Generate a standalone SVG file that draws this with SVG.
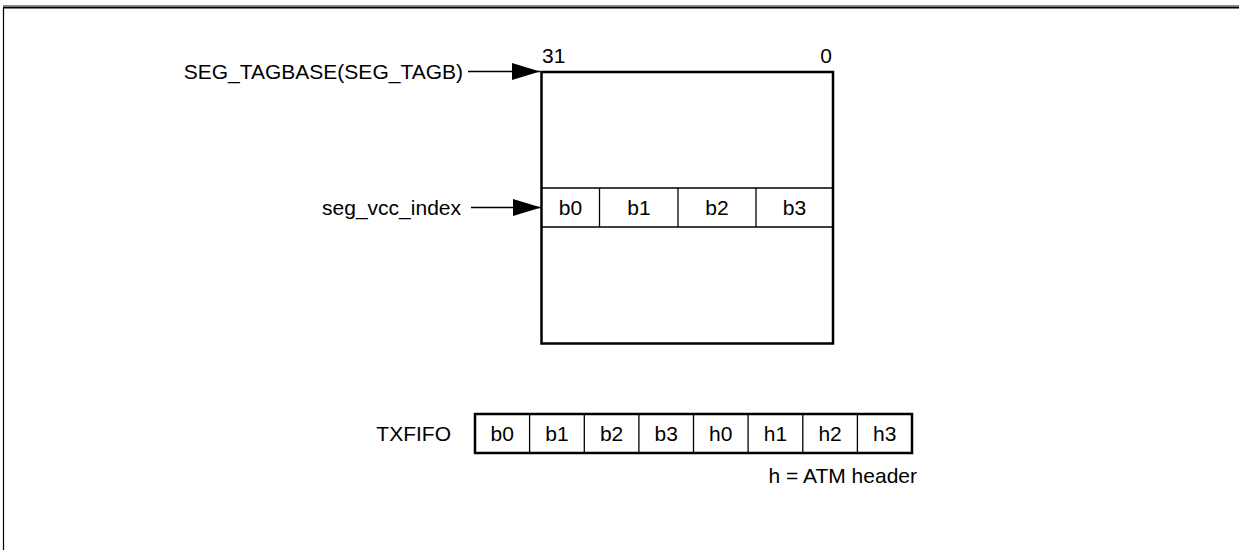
<svg xmlns="http://www.w3.org/2000/svg" width="1239" height="550" viewBox="0 0 1239 550">
<style>
text{font-family:"Liberation Sans",Arial,sans-serif;font-size:21px;fill:#000}
.mid{text-anchor:middle}
.end{text-anchor:end}
.thick{fill:none;stroke:#000;stroke-width:2.5}
.thin{fill:none;stroke:#000;stroke-width:1.3}
.conn{fill:none;stroke:#000;stroke-width:1.5}
</style>
<defs>
<marker id="ah" viewBox="0 0 28 17" refX="28" refY="8.5" markerWidth="28" markerHeight="17" markerUnits="userSpaceOnUse" orient="auto">
<path d="M0,0 L28,8.5 L0,17 Z" fill="#000"/>
</marker>
</defs>
<rect width="1239" height="550" fill="#fff"/>
<g id="frame">
<line x1="3" y1="5.5" x2="1239" y2="5.5" stroke="#888" stroke-width="1.2"/>
<line x1="3" y1="7.5" x2="1239" y2="7.5" stroke="#000" stroke-width="2"/>
<line x1="3.5" y1="7" x2="3.5" y2="550" stroke="#000" stroke-width="1.2"/>
</g>
<g id="connectors">
<line class="conn" x1="468" y1="71.5" x2="540" y2="71.5" marker-end="url(#ah)"/>
<line class="conn" x1="471" y1="207.5" x2="541" y2="207.5" marker-end="url(#ah)"/>
</g>
<g id="label-tagbase"><text class="end" x="463" y="79">SEG_TAGBASE(SEG_TAGB)</text></g>
<g id="label-vcc"><text class="end" x="461" y="215">seg_vcc_index</text></g>
<g id="memory">
<rect class="thick" x="541.5" y="72" width="291.5" height="271.5"/>
<text x="542" y="63">31</text>
<text class="end" x="832" y="63">0</text>
<line class="thin" x1="541.5" y1="188" x2="833" y2="188"/>
<line class="thin" x1="541.5" y1="227" x2="833" y2="227"/>
<line class="thin" x1="599.5" y1="188" x2="599.5" y2="227"/>
<line class="thin" x1="678" y1="188" x2="678" y2="227"/>
<line class="thin" x1="756" y1="188" x2="756" y2="227"/>
<text class="mid" x="570.5" y="215">b0</text>
<text class="mid" x="639" y="215">b1</text>
<text class="mid" x="717" y="215">b2</text>
<text class="mid" x="794.5" y="215">b3</text>
</g>
<g id="txfifo">
<text class="end" x="451" y="441">TXFIFO</text>
<rect class="thick" x="475" y="414" width="437" height="39"/>
<g class="thin">
<line x1="529.6" y1="414" x2="529.6" y2="453"/>
<line x1="584.3" y1="414" x2="584.3" y2="453"/>
<line x1="638.9" y1="414" x2="638.9" y2="453"/>
<line x1="693.5" y1="414" x2="693.5" y2="453"/>
<line x1="748.1" y1="414" x2="748.1" y2="453"/>
<line x1="802.8" y1="414" x2="802.8" y2="453"/>
<line x1="857.4" y1="414" x2="857.4" y2="453"/>
</g>
<text class="mid" x="502.3" y="441">b0</text>
<text class="mid" x="556.9" y="441">b1</text>
<text class="mid" x="611.6" y="441">b2</text>
<text class="mid" x="666.2" y="441">b3</text>
<text class="mid" x="720.8" y="441">h0</text>
<text class="mid" x="775.5" y="441">h1</text>
<text class="mid" x="830.1" y="441">h2</text>
<text class="mid" x="884.7" y="441">h3</text>
</g>
<g id="note"><text class="end" x="917" y="483">h = ATM header</text></g>
</svg>
